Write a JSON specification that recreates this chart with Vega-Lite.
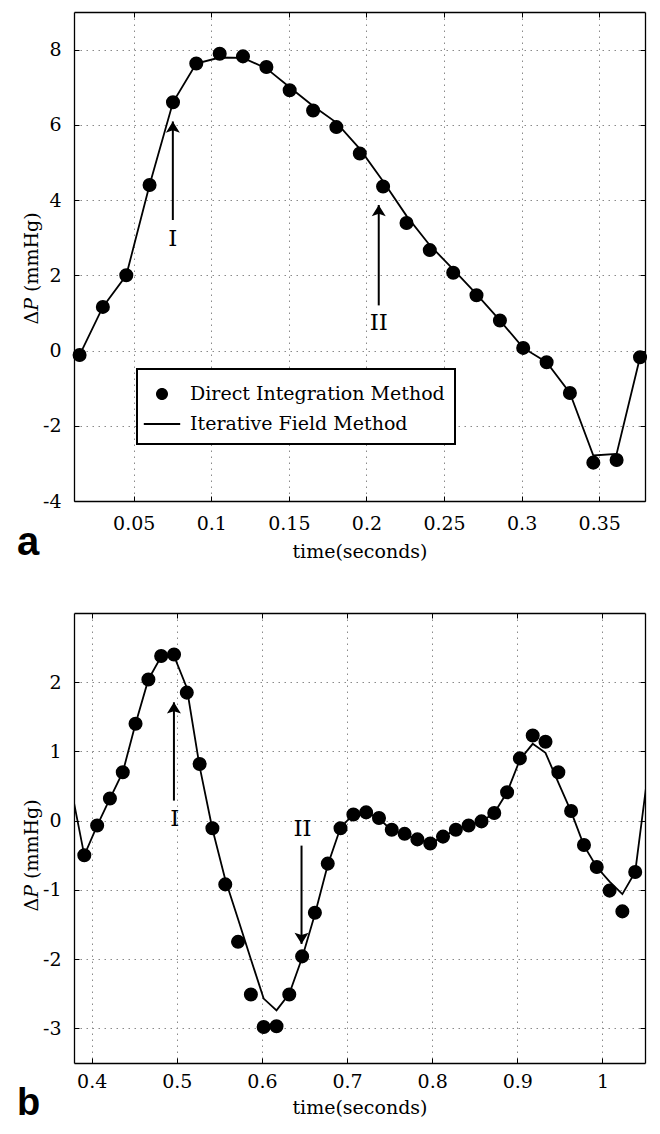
{
  "$schema": "https://vega.github.io/schema/vega-lite/v6.json",
  "padding": {"left": 17, "top": 11, "right": 5, "bottom": 5},
  "spacing": 49,
  "datasets": {
    "a_points": [
      {"t": 0.0151, "v": -0.12, "series": "Direct Integration Method"},
      {"t": 0.0301, "v": 1.16, "series": "Direct Integration Method"},
      {"t": 0.0452, "v": 2.0, "series": "Direct Integration Method"},
      {"t": 0.0602, "v": 4.4, "series": "Direct Integration Method"},
      {"t": 0.0753, "v": 6.6, "series": "Direct Integration Method"},
      {"t": 0.0903, "v": 7.63, "series": "Direct Integration Method"},
      {"t": 0.1054, "v": 7.89, "series": "Direct Integration Method"},
      {"t": 0.1204, "v": 7.82, "series": "Direct Integration Method"},
      {"t": 0.1355, "v": 7.54, "series": "Direct Integration Method"},
      {"t": 0.1505, "v": 6.92, "series": "Direct Integration Method"},
      {"t": 0.1656, "v": 6.38, "series": "Direct Integration Method"},
      {"t": 0.1806, "v": 5.94, "series": "Direct Integration Method"},
      {"t": 0.1957, "v": 5.24, "series": "Direct Integration Method"},
      {"t": 0.2107, "v": 4.36, "series": "Direct Integration Method"},
      {"t": 0.2258, "v": 3.39, "series": "Direct Integration Method"},
      {"t": 0.2408, "v": 2.67, "series": "Direct Integration Method"},
      {"t": 0.2559, "v": 2.07, "series": "Direct Integration Method"},
      {"t": 0.2709, "v": 1.47, "series": "Direct Integration Method"},
      {"t": 0.286, "v": 0.8, "series": "Direct Integration Method"},
      {"t": 0.301, "v": 0.07, "series": "Direct Integration Method"},
      {"t": 0.3161, "v": -0.31, "series": "Direct Integration Method"},
      {"t": 0.3311, "v": -1.13, "series": "Direct Integration Method"},
      {"t": 0.3462, "v": -2.98, "series": "Direct Integration Method"},
      {"t": 0.3612, "v": -2.91, "series": "Direct Integration Method"},
      {"t": 0.3763, "v": -0.18, "series": "Direct Integration Method"}
    ],
    "a_line": [
      {"t": 0.0151, "v": -0.12},
      {"t": 0.0301, "v": 1.16},
      {"t": 0.0452, "v": 2.0},
      {"t": 0.0602, "v": 4.4},
      {"t": 0.0753, "v": 6.6},
      {"t": 0.0903, "v": 7.63},
      {"t": 0.1054, "v": 7.79},
      {"t": 0.1204, "v": 7.78},
      {"t": 0.1355, "v": 7.5},
      {"t": 0.1505, "v": 7.0},
      {"t": 0.1656, "v": 6.5},
      {"t": 0.1806, "v": 6.06},
      {"t": 0.1957, "v": 5.36},
      {"t": 0.2107, "v": 4.5},
      {"t": 0.2258, "v": 3.58},
      {"t": 0.2408, "v": 2.8},
      {"t": 0.2559, "v": 2.16},
      {"t": 0.2709, "v": 1.5},
      {"t": 0.286, "v": 0.8},
      {"t": 0.301, "v": 0.07},
      {"t": 0.3161, "v": -0.31},
      {"t": 0.3311, "v": -1.13},
      {"t": 0.3462, "v": -2.79},
      {"t": 0.3612, "v": -2.75},
      {"t": 0.3763, "v": -0.18}
    ],
    "a_arrows": [
      {"t": 0.0752, "tail": 3.47, "tip": 6.09, "dir": "up"},
      {"t": 0.2079, "tail": 1.2, "tip": 3.87, "dir": "up"}
    ],
    "a_labels": [
      {"t": 0.0752, "v": 2.97, "text": "I"},
      {"t": 0.2079, "v": 0.72, "text": "II"}
    ],
    "b_points": [
      {"t": 0.3913, "v": -0.5},
      {"t": 0.4064, "v": -0.07},
      {"t": 0.4214, "v": 0.32},
      {"t": 0.4365, "v": 0.7},
      {"t": 0.4515, "v": 1.4},
      {"t": 0.4666, "v": 2.04},
      {"t": 0.4816, "v": 2.38},
      {"t": 0.4967, "v": 2.4},
      {"t": 0.5117, "v": 1.85},
      {"t": 0.5268, "v": 0.82},
      {"t": 0.5418, "v": -0.11},
      {"t": 0.5569, "v": -0.92},
      {"t": 0.5719, "v": -1.75},
      {"t": 0.587, "v": -2.51},
      {"t": 0.602, "v": -2.98},
      {"t": 0.6171, "v": -2.97},
      {"t": 0.6321, "v": -2.51},
      {"t": 0.6472, "v": -1.96},
      {"t": 0.6622, "v": -1.33},
      {"t": 0.6773, "v": -0.62},
      {"t": 0.6923, "v": -0.11},
      {"t": 0.7074, "v": 0.09},
      {"t": 0.7224, "v": 0.12},
      {"t": 0.7375, "v": 0.04},
      {"t": 0.7525, "v": -0.13},
      {"t": 0.7676, "v": -0.19},
      {"t": 0.7826, "v": -0.27},
      {"t": 0.7977, "v": -0.33},
      {"t": 0.8127, "v": -0.23},
      {"t": 0.8278, "v": -0.13},
      {"t": 0.8428, "v": -0.07},
      {"t": 0.8579, "v": -0.01},
      {"t": 0.8729, "v": 0.11},
      {"t": 0.888, "v": 0.41},
      {"t": 0.903, "v": 0.9},
      {"t": 0.9181, "v": 1.23},
      {"t": 0.9331, "v": 1.14},
      {"t": 0.9482, "v": 0.7},
      {"t": 0.9632, "v": 0.14},
      {"t": 0.9783, "v": -0.35},
      {"t": 0.9933, "v": -0.67},
      {"t": 1.0084, "v": -1.01},
      {"t": 1.0234, "v": -1.31},
      {"t": 1.0385, "v": -0.74}
    ],
    "b_line": [
      {"t": 0.3763, "v": 0.44},
      {"t": 0.3913, "v": -0.5},
      {"t": 0.4064, "v": -0.07},
      {"t": 0.4214, "v": 0.32},
      {"t": 0.4365, "v": 0.7},
      {"t": 0.4515, "v": 1.4},
      {"t": 0.4666, "v": 2.04},
      {"t": 0.4816, "v": 2.37},
      {"t": 0.4967, "v": 2.38},
      {"t": 0.5117, "v": 1.92},
      {"t": 0.5268, "v": 0.78},
      {"t": 0.5418, "v": -0.12},
      {"t": 0.5569, "v": -0.85},
      {"t": 0.5719, "v": -1.42},
      {"t": 0.587, "v": -2.0},
      {"t": 0.602, "v": -2.57},
      {"t": 0.6171, "v": -2.74},
      {"t": 0.6321, "v": -2.5},
      {"t": 0.6472, "v": -1.98},
      {"t": 0.6622, "v": -1.35},
      {"t": 0.6773, "v": -0.64},
      {"t": 0.6923, "v": -0.1},
      {"t": 0.7074, "v": 0.09},
      {"t": 0.7224, "v": 0.12},
      {"t": 0.7375, "v": 0.03},
      {"t": 0.7525, "v": -0.14},
      {"t": 0.7676, "v": -0.2},
      {"t": 0.7826, "v": -0.27},
      {"t": 0.7977, "v": -0.33},
      {"t": 0.8127, "v": -0.23},
      {"t": 0.8278, "v": -0.13},
      {"t": 0.8428, "v": -0.07},
      {"t": 0.8579, "v": -0.01},
      {"t": 0.8729, "v": 0.11},
      {"t": 0.888, "v": 0.41},
      {"t": 0.903, "v": 0.88},
      {"t": 0.9181, "v": 1.11},
      {"t": 0.9331, "v": 0.98},
      {"t": 0.9482, "v": 0.55},
      {"t": 0.9632, "v": 0.13},
      {"t": 0.9783, "v": -0.36},
      {"t": 0.9933, "v": -0.67},
      {"t": 1.0084, "v": -0.88},
      {"t": 1.0234, "v": -1.06},
      {"t": 1.0385, "v": -0.74},
      {"t": 1.0535, "v": 0.7}
    ],
    "b_arrows": [
      {"t": 0.4966, "tail": 0.29, "tip": 1.71, "dir": "up"},
      {"t": 0.6465, "tail": -0.36, "tip": -1.78, "dir": "down"}
    ],
    "b_labels": [
      {"t": 0.4977, "v": 0.02, "text": "I"},
      {"t": 0.6477, "v": -0.12, "text": "II"}
    ]
  },
  "vconcat": [
    {
      "width": 571,
      "height": 489,
      "title": {"text": "a", "orient": "bottom", "anchor": "start", "frame": "group", "font": "Liberation Sans", "fontSize": 40, "fontWeight": "bold", "color": "#000", "dx": -57, "offset": -6, "baseline": "alphabetic"},
      "resolve": {"axis": {"x": "independent", "y": "independent"}},
      "layer": [
        {
          "data": {"name": "a_line"},
          "mark": {"type": "line", "color": "#000", "strokeWidth": 1.8, "clip": true},
          "encoding": {
            "x": {"field": "t", "type": "quantitative",
              "scale": {"domain": [0.0115, 0.3795], "nice": false, "zero": false},
              "axis": {"orient": "bottom", "values": [0.05, 0.1, 0.15, 0.2, 0.25, 0.3, 0.35], "grid": true, "title": "time(seconds)", "labelExpr": "'' + datum.value", "labelPadding": 18, "titlePadding": 9,
                "labelFont": "DejaVu Serif", "labelFontSize": 19, "titleFont": "DejaVu Serif", "titleFontSize": 19, "titleFontWeight": "normal"}},
            "y": {"field": "v", "type": "quantitative",
              "scale": {"domain": [-4, 9], "nice": false, "zero": false},
              "axis": {"orient": "left", "values": [-4, -2, 0, 2, 4, 6, 8], "grid": true, "title": "Δ𝑃 (mmHg)", "labelExpr": "'' + datum.value", "labelPadding": 18, "titleX": -37, "titleY": 256, "titleBaseline": "alphabetic",
                "labelFont": "DejaVu Serif", "labelFontSize": 19, "titleFont": "DejaVu Serif", "titleFontSize": 19, "titleFontWeight": "normal"}}
          }
        },
        {
          "data": {"name": "a_points"},
          "mark": {"type": "point", "filled": true, "color": "#000", "stroke": "#000", "strokeWidth": 1.5, "opacity": 1, "size": 850},
          "encoding": {
            "x": {"field": "t", "type": "quantitative",
              "axis": {"orient": "top", "values": [0.05, 0.1, 0.15, 0.2, 0.25, 0.3, 0.35], "labels": false, "grid": false, "title": null}},
            "y": {"field": "v", "type": "quantitative",
              "axis": {"orient": "right", "values": [-4, -2, 0, 2, 4, 6, 8], "labels": false, "grid": false, "title": null}},
            "shape": {"field": "series", "type": "nominal",
              "scale": {"domain": ["Direct Integration Method", "Iterative Field Method"],
                "range": ["M-0.43,0A0.43,0.43 0 1,0 0.43,0A0.43,0.43 0 1,0 -0.43,0Z", "M-1.3,-0.065L1.3,-0.065L1.3,0.065L-1.3,0.065Z"]},
              "legend": {"title": null, "orient": "none", "legendX": 63, "legendY": 357, "strokeColor": "#000", "fillColor": "#fff", "padding": 10,
                "labelFont": "DejaVu Serif", "labelFontSize": 19, "labelColor": "#000", "labelOffset": 13, "labelLimit": 0, "symbolSize": 784, "rowPadding": 5,
                "symbolStrokeWidth": 1.5, "symbolStrokeColor": "#000", "symbolFillColor": "#000"}}
          }
        },
        {
          "data": {"name": "a_arrows"},
          "mark": {"type": "rule", "color": "#000", "strokeWidth": 2},
          "encoding": {
            "x": {"field": "t", "type": "quantitative", "axis": null},
            "y": {"field": "tail", "type": "quantitative", "axis": null},
            "y2": {"field": "tip"}
          }
        },
        {
          "data": {"name": "a_arrows"},
          "mark": {"type": "point", "filled": true, "color": "#000", "opacity": 1, "size": 350, "strokeWidth": 0, "shape": "M0,0L0.75,1.2L0,0.95L-0.75,1.2Z"},
          "encoding": {
            "x": {"field": "t", "type": "quantitative", "axis": null},
            "y": {"field": "tip", "type": "quantitative", "axis": null}
          }
        },
        {
          "data": {"name": "a_labels"},
          "mark": {"type": "text", "font": "DejaVu Serif", "fontSize": 23, "color": "#000", "align": "center", "baseline": "middle"},
          "encoding": {
            "x": {"field": "t", "type": "quantitative", "axis": null},
            "y": {"field": "v", "type": "quantitative", "axis": null},
            "text": {"field": "text"}
          }
        }
      ]
    },
    {
      "width": 571,
      "height": 450,
      "title": {"text": "b", "orient": "bottom", "anchor": "start", "frame": "group", "font": "Liberation Sans", "fontSize": 38, "fontWeight": "bold", "color": "#000", "dx": -57, "offset": -2, "baseline": "alphabetic"},
      "resolve": {"axis": {"x": "independent", "y": "independent"}},
      "layer": [
        {
          "data": {"name": "b_line"},
          "mark": {"type": "line", "color": "#000", "strokeWidth": 1.8, "clip": true},
          "encoding": {
            "x": {"field": "t", "type": "quantitative",
              "scale": {"domain": [0.3792, 1.05], "nice": false, "zero": false},
              "axis": {"orient": "bottom", "values": [0.4, 0.5, 0.6, 0.7, 0.8, 0.9, 1], "grid": true, "title": "time(seconds)", "labelExpr": "'' + datum.value", "labelPadding": 14, "titlePadding": 7,
                "labelFont": "DejaVu Serif", "labelFontSize": 19, "titleFont": "DejaVu Serif", "titleFontSize": 19, "titleFontWeight": "normal"}},
            "y": {"field": "v", "type": "quantitative",
              "scale": {"domain": [-3.5, 3], "nice": false, "zero": false},
              "axis": {"orient": "left", "values": [-3, -2, -1, 0, 1, 2], "grid": true, "title": "Δ𝑃 (mmHg)", "labelExpr": "'' + datum.value", "labelPadding": 18, "titleX": -37, "titleY": 242, "titleBaseline": "alphabetic",
                "labelFont": "DejaVu Serif", "labelFontSize": 19, "titleFont": "DejaVu Serif", "titleFontSize": 19, "titleFontWeight": "normal"}}
          }
        },
        {
          "data": {"name": "b_points"},
          "mark": {"type": "point", "filled": true, "color": "#000", "stroke": "#000", "strokeWidth": 1.5, "opacity": 1, "size": 850, "shape": "M-0.43,0A0.43,0.43 0 1,0 0.43,0A0.43,0.43 0 1,0 -0.43,0Z"},
          "encoding": {
            "x": {"field": "t", "type": "quantitative",
              "axis": {"orient": "top", "values": [0.4, 0.5, 0.6, 0.7, 0.8, 0.9, 1], "labels": false, "grid": false, "title": null}},
            "y": {"field": "v", "type": "quantitative",
              "axis": {"orient": "right", "values": [-3, -2, -1, 0, 1, 2], "labels": false, "grid": false, "title": null}}
          }
        },
        {
          "data": {"name": "b_arrows"},
          "mark": {"type": "rule", "color": "#000", "strokeWidth": 2},
          "encoding": {
            "x": {"field": "t", "type": "quantitative", "axis": null},
            "y": {"field": "tail", "type": "quantitative", "axis": null},
            "y2": {"field": "tip"}
          }
        },
        {
          "data": {"name": "b_arrows"},
          "transform": [{"filter": "datum.dir == 'up'"}],
          "mark": {"type": "point", "filled": true, "color": "#000", "opacity": 1, "size": 350, "strokeWidth": 0, "shape": "M0,0L0.75,1.2L0,0.95L-0.75,1.2Z"},
          "encoding": {
            "x": {"field": "t", "type": "quantitative", "axis": null},
            "y": {"field": "tip", "type": "quantitative", "axis": null}
          }
        },
        {
          "data": {"name": "b_arrows"},
          "transform": [{"filter": "datum.dir == 'down'"}],
          "mark": {"type": "point", "filled": true, "color": "#000", "opacity": 1, "size": 350, "strokeWidth": 0, "shape": "M0,0L0.75,-1.2L0,-0.95L-0.75,-1.2Z"},
          "encoding": {
            "x": {"field": "t", "type": "quantitative", "axis": null},
            "y": {"field": "tip", "type": "quantitative", "axis": null}
          }
        },
        {
          "data": {"name": "b_labels"},
          "mark": {"type": "text", "font": "DejaVu Serif", "fontSize": 23, "color": "#000", "align": "center", "baseline": "middle"},
          "encoding": {
            "x": {"field": "t", "type": "quantitative", "axis": null},
            "y": {"field": "v", "type": "quantitative", "axis": null},
            "text": {"field": "text"}
          }
        }
      ]
    }
  ],
  "config": {
    "font": "DejaVu Serif",
    "view": {"stroke": null},
    "legend": {"strokeWidth": 2},
    "style": {
      "guide-label": {"font": "DejaVu Serif", "fontSize": 19, "fill": "#000"},
      "guide-title": {"font": "DejaVu Serif", "fontSize": 19, "fontWeight": "normal", "fill": "#000"}
    },
    "axis": {
      "labelFont": "DejaVu Serif", "labelFontSize": 19, "labelColor": "#000",
      "titleFont": "DejaVu Serif", "titleFontSize": 19, "titleFontWeight": "normal", "titleColor": "#000",
      "domainColor": "#000", "domainWidth": 1.3,
      "tickColor": "#000", "tickSize": -5, "tickWidth": 1,
      "gridColor": "#8a8a8a", "gridDash": [1.5, 4.5], "gridWidth": 1
    }
  }
}
